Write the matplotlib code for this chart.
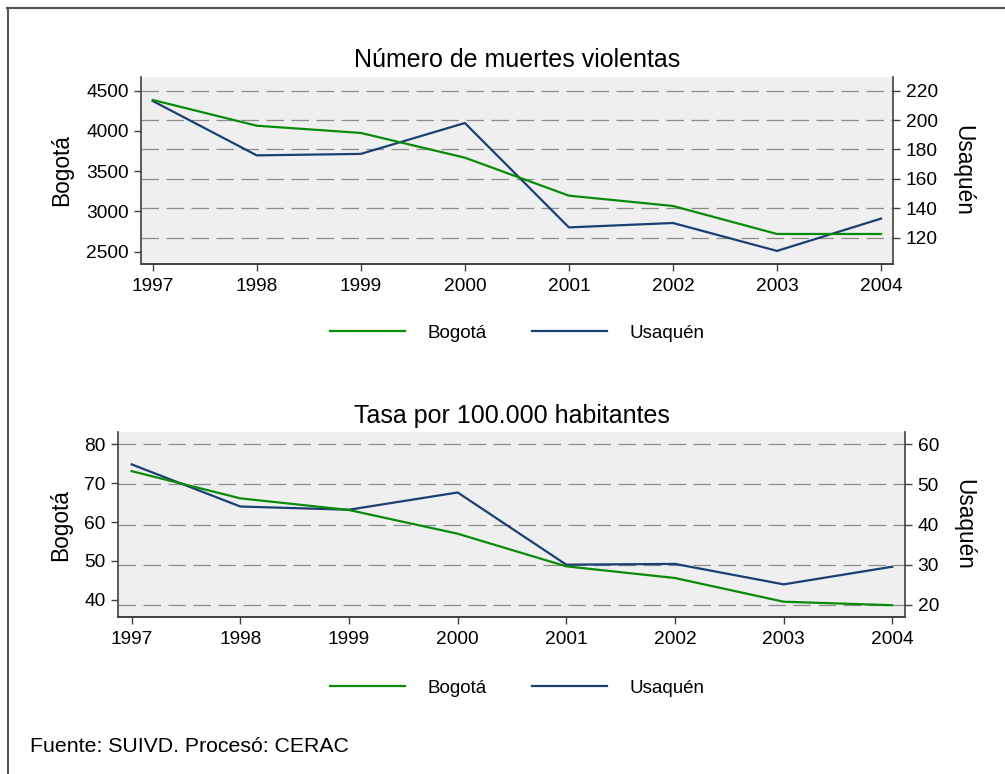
import matplotlib
matplotlib.use("Agg")
import matplotlib.pyplot as plt
from matplotlib.lines import Line2D

plt.rcParams['font.family'] = ['Liberation Sans', 'DejaVu Sans']

# Data
years = [1997, 1998, 1999, 2000, 2001, 2002, 2003, 2004]
muertes_bogota = [4385, 4065, 3975, 3668, 3196, 3068, 2720, 2720]
muertes_usaquen = [213, 176, 177, 198, 127, 130, 111, 133]
tasa_bogota = [73.1, 66.1, 63.1, 57.0, 48.6, 45.6, 39.5, 38.6]
tasa_usaquen = [55.0, 44.5, 43.7, 48.0, 30.0, 30.2, 25.1, 29.5]

left_ticks_top = [2500, 3000, 3500, 4000, 4500]
right_ticks_top = [120, 140, 160, 180, 200, 220]
left_ticks_bot = [40, 50, 60, 70, 80]
right_ticks_bot = [20, 30, 40, 50, 60]

GREEN = '#0a8a0a'
NAVY = '#1a3f72'
BG = '#efefef'
SPINE = '#404040'
GRID = '#8c8c8c'


def panel(rect, title, y_left, y_right, xlim, ylim_l, ylim_r, lt, rt, legend_y):
    ax = fig.add_axes(rect)
    tw = ax.twinx()
    # twin holds background, grid and Usaquén; main axes on top with Bogotá
    ax.set_zorder(tw.get_zorder() + 1)
    ax.patch.set_visible(False)
    tw.patch.set_visible(True)
    tw.patch.set_facecolor(BG)

    l1, = ax.plot(years, y_left, color=GREEN, lw=1.6, label='Bogotá')
    l2, = tw.plot(years, y_right, color=NAVY, lw=1.6, label='Usaquén')

    ax.set_xlim(*xlim)
    ax.set_ylim(*ylim_l)
    tw.set_ylim(*ylim_r)
    ax.set_xticks(years)
    ax.set_yticks(lt)
    tw.set_yticks(rt)
    tw.grid(axis='y', color=GRID, lw=0.9, linestyle=(0, (14, 6)))
    tw.set_axisbelow(True)

    for a in (ax, tw):
        a.spines['top'].set_visible(False)
        for s in ('left', 'right', 'bottom'):
            a.spines[s].set_color(SPINE)
            a.spines[s].set_linewidth(1.2)
        a.tick_params(length=5, width=1, color=SPINE, labelsize=13.8, pad=4)
    ax.spines['right'].set_visible(False)
    tw.spines['left'].set_visible(False)
    ax.tick_params(axis='x', pad=5)

    ax.set_title(title, fontsize=18, pad=7)
    ax.set_ylabel('Bogotá', fontsize=16.3, labelpad=9)
    tw.set_ylabel('Usaquén', fontsize=16.3, rotation=270, labelpad=26)

    fig.legend([l1, l2], ['Bogotá', 'Usaquén'], loc='center',
               bbox_to_anchor=(0.515, legend_y), ncol=2, frameon=False,
               fontsize=13.5, handlelength=4.0, columnspacing=2.4,
               handletextpad=1.2)
    return ax, tw


fig = plt.figure(figsize=(10.05, 7.74), dpi=100)

panel([0.1403, 0.6589, 0.7486, 0.2416], 'Número de muertes violentas',
      muertes_bogota, muertes_usaquen, (1996.8875, 2004.118),
      (2347, 4670), (102.1, 229.3), left_ticks_top, right_ticks_top, 0.5698)

panel([0.1177, 0.2025, 0.7828, 0.239], 'Tasa por 100.000 habitantes',
      tasa_bogota, tasa_usaquen, (1996.877, 2004.117),
      (35.5, 83.1), (16.9, 63.0), left_ticks_bot, right_ticks_bot, 0.111)

fig.text(0.03, 0.035, 'Fuente: SUIVD. Procesó: CERAC', fontsize=15.3,
         va='center', ha='left')

# outer frame (top and left edges)
fig.add_artist(Line2D([7 / 1005, 1], [1 - 7.5 / 774, 1 - 7.5 / 774],
                      color='#555555', lw=1.5, transform=fig.transFigure))
fig.add_artist(Line2D([7.5 / 1005, 7.5 / 1005], [0, 1 - 7.5 / 774],
                      color='#555555', lw=1.5, transform=fig.transFigure))

fig.savefig('out.png', dpi=100, facecolor='white')
